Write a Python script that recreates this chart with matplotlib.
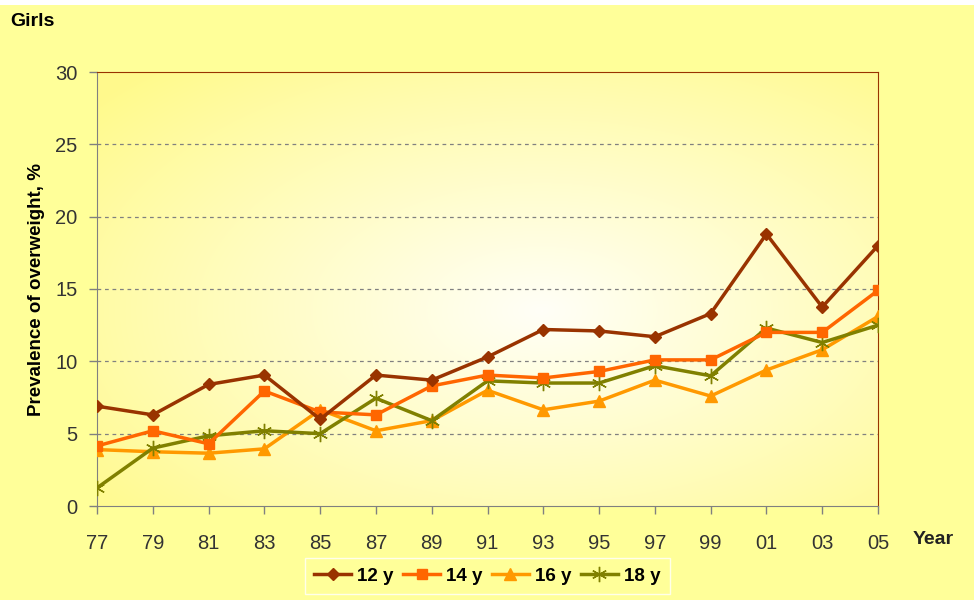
import numpy as np
import matplotlib.pyplot as plt
from matplotlib.patches import Rectangle

plt.rcParams['font.family'] = ['Liberation Sans', 'DejaVu Sans']

years = ['77', '79', '81', '83', '85', '87', '89', '91', '93', '95', '97', '99', '01', '03', '05']
girls_12 = [6.9, 6.3, 8.4, 9.05, 6.0, 9.05, 8.7, 10.3, 12.2, 12.1, 11.7, 13.3, 18.8, 13.75, 18.0]
girls_14 = [4.15, 5.2, 4.3, 7.95, 6.5, 6.3, 8.3, 9.05, 8.85, 9.3, 10.1, 10.1, 12.0, 12.0, 14.9]
girls_16 = [3.9, 3.75, 3.65, 3.95, 6.65, 5.2, 5.9, 8.0, 6.65, 7.25, 8.7, 7.6, 9.4, 10.8, 13.1]
girls_18 = [1.25, 4.0, 4.85, 5.2, 5.0, 7.45, 5.9, 8.65, 8.5, 8.5, 9.7, 9.0, 12.3, 11.3, 12.5]

W, H = 977, 600
fig = plt.figure(figsize=(W / 100, H / 100), dpi=100, facecolor='white')
bg = Rectangle((0, 0), 974 / W, 1 - 5 / H, transform=fig.transFigure,
               facecolor='#FFFF99', edgecolor='none', zorder=-10)
fig.patches.append(bg)

ax = fig.add_axes([97 / W, 1 - 506 / H, (878 - 97) / W, (506 - 72) / H])
x = np.arange(len(years))

# radial gradient white -> yellow in plot area
gx, gy = np.meshgrid(np.linspace(0, 1, 400), np.linspace(0, 1, 300))
r = np.sqrt(((gx - 0.57) / 0.75) ** 2 + ((gy - 0.45) / 0.75) ** 2)
r = np.clip(r, 0, 1)
white = np.array([1.0, 1.0, 0.97])
yellow = np.array([1.0, 0.98, 0.55])
img = white[None, None, :] * (1 - r[..., None]) + yellow[None, None, :] * r[..., None]
ax.imshow(img, extent=[0, len(years) - 1, 30, 0], aspect='auto', zorder=0,
          interpolation='bilinear')
ax.set_xlim(0, len(years) - 1)
ax.set_ylim(0, 30)

for yv in [5, 10, 15, 20, 25]:
    ax.axhline(yv, color='#808080', lw=0.9, ls=(0, (3, 3)), zorder=1)

ax.plot(x, girls_12, color='#993300', lw=2.5, marker='D', ms=6, label='12 y', zorder=5)
ax.plot(x, girls_14, color='#FF6600', lw=2.5, marker='s', ms=7, label='14 y', zorder=4)
ax.plot(x, girls_16, color='#FF9900', lw=2.5, marker='^', ms=8, label='16 y', zorder=3)
ax.plot(x, girls_18, color='#808000', lw=2.5, marker=(6, 2, 0), ms=11, mew=1,
        label='18 y', zorder=3)

ax.set_xticks(x)
ax.set_xticklabels(years)
ax.set_yticks(range(0, 31, 5))
ax.tick_params(axis='both', labelsize=14.5, colors='#808080', labelcolor='#333333',
               length=6, width=1, direction='out')
ax.tick_params(axis='x', pad=14)
ax.tick_params(axis='y', pad=8)
for side in ['left', 'bottom']:
    ax.spines[side].set_color('#808080')
for side in ['top', 'right']:
    ax.spines[side].set_color('#993300')

ax.set_ylabel('Prevalence of overweight, %', fontsize=13.5, fontweight='bold',
              labelpad=7, color='black')
fig.text(913 / W, 1 - 540 / H, 'Year', fontsize=14, fontweight='bold', color='#222222',
         ha='left', va='center')
fig.text(10 / W, 1 - 22 / H, 'Girls', fontsize=14, fontweight='bold', ha='left', va='center')

leg = fig.legend(loc='center', bbox_to_anchor=(487 / W, 1 - 576 / H), ncol=4,
                 frameon=True, fontsize=13.5, handlelength=2.0, columnspacing=0.5,
                 handletextpad=0.3, borderpad=0.5, borderaxespad=0, fancybox=False)
leg.get_frame().set_facecolor('#FFFF99')
leg.get_frame().set_edgecolor('white')
for t in leg.get_texts():
    t.set_fontweight('bold')

fig.savefig('out.png', dpi=100, facecolor='white')
